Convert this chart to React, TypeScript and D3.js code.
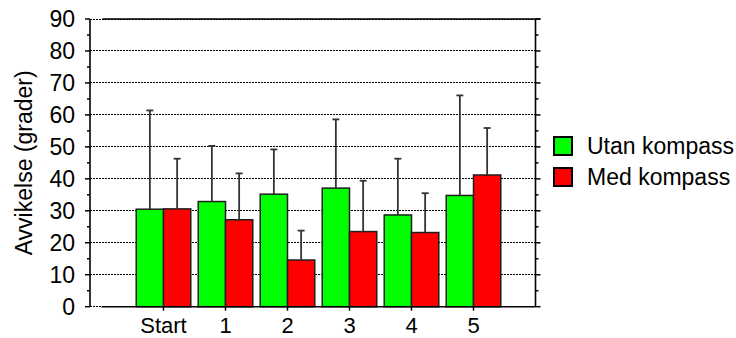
import React from "react";
import * as d3 from "d3";

// Mean deviation per trial, with and without a compass, plus standard deviations
const categories = ["Start", "1", "2", "3", "4", "5"];
const utanKompass = [30.5, 32.9, 35.2, 37.1, 28.7, 34.8];
const utanKompassErr = [30.9, 17.4, 14.0, 21.5, 17.6, 31.3];
const medKompass = [30.6, 27.2, 14.6, 23.5, 23.2, 41.2];
const medKompassErr = [15.7, 14.5, 9.2, 15.9, 12.3, 14.7];
const yTicks = [0, 10, 20, 30, 40, 50, 60, 70, 80, 90];
const yMinorTicks = [5, 15, 25, 35, 45, 55, 65, 75, 85];
const seriesNames = ["Utan kompass", "Med kompass"];
const seriesColors = ["#00ff00", "#ff0000"];

const W = 736;
const H = 338;
const FONT = "'Liberation Sans', Arial, sans-serif";

export default function App() {
  const y = d3.scaleLinear().domain([0, 90]).range([306.7, 19]);
  const x = d3.scaleLinear().domain([0, 7]).range([101.5, 535.5]);
  const yAxisX = 90;
  const rightX = x(7);
  const step = x(1) - x(0);
  const bw = step * 0.44;
  const series = [
    { values: utanKompass, errs: utanKompassErr, offset: -1 },
    { values: medKompass, errs: medKompassErr, offset: 0 },
  ];

  return (
    <div style={{ position: "fixed", left: 0, top: 0 }}>
      <svg width={W} height={H} style={{ display: "block", background: "#fff" }} fontFamily={FONT}>
        {/* dotted grid */}
        {yTicks.map((t) => (
          <line
            key={"g" + t}
            x1={yAxisX}
            x2={rightX}
            y1={y(t)}
            y2={y(t)}
            stroke="#000"
            strokeWidth={1}
            strokeDasharray="2,1"
            shapeRendering="crispEdges"
          />
        ))}
        {/* top frame line */}
        <line x1={x(0) + 1} x2={rightX + 5} y1={y(90)} y2={y(90)} stroke="#000" strokeWidth={1.6} />

        {/* bars */}
        {series.map((s, si) =>
          s.values.map((v, i) => {
            const cx = x(i + 1);
            const left = cx + s.offset * bw;
            return (
              <rect
                key={`b${si}-${i}`}
                x={left}
                y={y(v)}
                width={bw}
                height={y(0) - y(v)}
                fill={seriesColors[si]}
                stroke="#1e1e1e"
                strokeWidth={1.5}
              />
            );
          })
        )}

        {/* error bars */}
        {series.map((s, si) =>
          s.values.map((v, i) => {
            const cx = x(i + 1) + s.offset * bw + bw / 2;
            const top = y(v + s.errs[i]);
            return (
              <g key={`e${si}-${i}`} stroke="#333" strokeWidth={1.8}>
                <line x1={cx} x2={cx} y1={y(v)} y2={top} />
                <line x1={cx - 3.5} x2={cx + 3.5} y1={top} y2={top} />
              </g>
            );
          })
        )}

        {/* bottom axis */}
        <line x1={x(0)} x2={rightX} y1={y(0)} y2={y(0)} stroke="#000" strokeWidth={1.6} />
        {categories.map((c, i) => (
          <g key={"x" + c}>
            <line x1={x(i + 1)} x2={x(i + 1)} y1={y(0)} y2={y(0) + 4} stroke="#000" strokeWidth={1.5} />
            <text x={x(i + 1)} y={332.5} textAnchor="middle" fontSize={22} fill="#000">
              {c}
            </text>
          </g>
        ))}

        {/* left axis */}
        <line x1={yAxisX} x2={yAxisX} y1={y(90)} y2={y(0)} stroke="#000" strokeWidth={1.6} />
        {yTicks.map((t) => (
          <g key={"yl" + t}>
            <line x1={yAxisX - 5} x2={yAxisX} y1={y(t)} y2={y(t)} stroke="#000" strokeWidth={1.5} />
            <text x={75} y={y(t) + 8} textAnchor="end" fontSize={23} fill="#000">
              {t}
            </text>
          </g>
        ))}
        {yMinorTicks.map((t) => (
          <line key={"ym" + t} x1={yAxisX - 3} x2={yAxisX} y1={y(t)} y2={y(t)} stroke="#000" strokeWidth={1.5} />
        ))}

        {/* right axis */}
        <line x1={rightX} x2={rightX} y1={y(90)} y2={y(0)} stroke="#000" strokeWidth={1.6} />
        {yTicks.map((t) => (
          <line key={"yr" + t} x1={rightX} x2={rightX + 5} y1={y(t)} y2={y(t)} stroke="#000" strokeWidth={1.5} />
        ))}
        {yMinorTicks.map((t) => (
          <line key={"yrm" + t} x1={rightX} x2={rightX + 3} y1={y(t)} y2={y(t)} stroke="#000" strokeWidth={1.5} />
        ))}

        {/* y axis title */}
        <text
          transform={`translate(32, ${(y(0) + y(90)) / 2}) rotate(-90)`}
          textAnchor="middle"
          fontSize={23}
          fill="#000"
        >
          Avvikelse (grader)
        </text>

        {/* legend */}
        {seriesNames.map((name, i) => (
          <g key={name} transform={`translate(554, ${137 + i * 31})`}>
            <rect x={0} y={0} width={18} height={18} fill={seriesColors[i]} stroke="#000" strokeWidth={2} />
            <text x={33} y={17} fontSize={23} fill="#000">
              {name}
            </text>
          </g>
        ))}
      </svg>
    </div>
  );
}
